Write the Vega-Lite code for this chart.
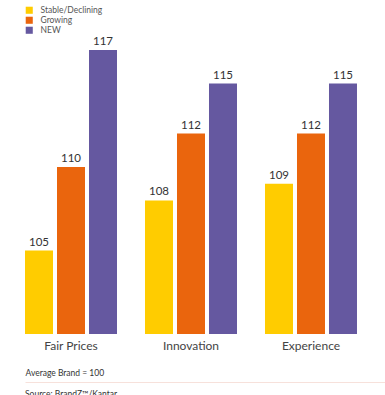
{
  "$schema": "https://vega.github.io/schema/vega-lite/v6.json",
  "autosize": "none",
  "width": 360,
  "height": 334,
  "padding": {"left": 25, "top": 0, "right": 0, "bottom": 61},
  "background": "white",
  "config": {
    "view": {"stroke": null},
    "font": "Lato",
    "title": {"font": "Lato"}
  },
  "title": {
    "text": "Source: BrandZ™/Kantar",
    "orient": "bottom",
    "anchor": "start",
    "fontSize": 8.5,
    "fontWeight": "normal",
    "color": "#333333",
    "offset": 8
  },
  "data": {
    "values": [
      {"attribute": "Fair Prices", "group": "Stable/Declining", "value": 105},
      {"attribute": "Fair Prices", "group": "Growing", "value": 110},
      {"attribute": "Fair Prices", "group": "NEW", "value": 117},
      {"attribute": "Innovation", "group": "Stable/Declining", "value": 108},
      {"attribute": "Innovation", "group": "Growing", "value": 112},
      {"attribute": "Innovation", "group": "NEW", "value": 115},
      {"attribute": "Experience", "group": "Stable/Declining", "value": 109},
      {"attribute": "Experience", "group": "Growing", "value": 112},
      {"attribute": "Experience", "group": "NEW", "value": 115}
    ]
  },
  "encoding": {
    "x": {
      "field": "attribute",
      "type": "nominal",
      "sort": ["Fair Prices", "Innovation", "Experience"],
      "scale": {"paddingInner": 0.2333, "paddingOuter": 0.1167, "align": 0},
      "axis": {
        "orient": "bottom",
        "offset": 48,
        "domain": true,
        "domainColor": "#f7e1db",
        "domainWidth": 1,
        "ticks": false,
        "grid": false,
        "labelAngle": 0,
        "labelPadding": -42,
        "labelFontSize": 12,
        "labelColor": "#444444",
        "title": "Average Brand = 100",
        "titleX": 0,
        "titleY": -10,
        "titleAlign": "left",
        "titleBaseline": "middle",
        "titleAnchor": "start",
        "titleFontSize": 8.5,
        "titleFontWeight": "normal",
        "titleColor": "#333333"
      }
    },
    "xOffset": {
      "field": "group",
      "type": "nominal",
      "sort": ["Stable/Declining", "Growing", "NEW"],
      "scale": {"paddingInner": 0.125, "paddingOuter": 0}
    },
    "y": {
      "field": "value",
      "type": "quantitative",
      "scale": {"domain": [100, 120], "zero": false, "nice": false},
      "axis": null
    }
  },
  "layer": [
    {
      "mark": {"type": "bar", "clip": true},
      "encoding": {
        "color": {
          "field": "group",
          "type": "nominal",
          "sort": ["Stable/Declining", "Growing", "NEW"],
          "scale": {
            "domain": ["Stable/Declining", "Growing", "NEW"],
            "range": ["#FFCC00", "#EA650D", "#6558A0"]
          },
          "legend": {
            "orient": "none",
            "legendX": 0,
            "legendY": 6,
            "title": null,
            "symbolType": "square",
            "symbolSize": 50,
            "symbolStrokeWidth": 0,
            "labelFontSize": 8.5,
            "labelColor": "#555555",
            "labelOffset": 7,
            "rowPadding": 1,
            "padding": 0
          }
        }
      }
    },
    {
      "mark": {"type": "text", "baseline": "bottom", "dy": -3, "fontSize": 11.5, "color": "#333333"},
      "encoding": {
        "text": {"field": "value", "type": "quantitative"}
      }
    }
  ]
}
